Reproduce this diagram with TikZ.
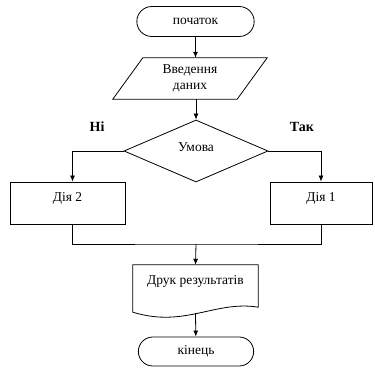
\documentclass[tikz,border=0pt]{standalone}
\usepackage{fontspec}
\setmainfont{Liberation Serif}
\usetikzlibrary{positioning,arrows.meta,shapes.geometric,shapes.misc}

\tikzset{
  >={Latex[length=6pt,width=5pt]},
  line/.style={draw, line width=0.8pt},
  txt/.style={font=\fontsize{13.5}{15}\selectfont},
  term/.style={line, txt, rounded rectangle, minimum width=124, minimum height=30},
  inbox/.style={txt, minimum width=124, minimum height=41, inner sep=0pt, align=center, font=\fontsize{13.5}{16}\selectfont},
  cond/.style={line, txt, diamond, minimum width=144, minimum height=62, inner sep=0pt},
  actbox/.style={line, txt, rectangle, minimum height=42, text depth=12pt},
  branch/.style={font=\fontsize{14}{16}\selectfont\bfseries}
}

\begin{document}
\begin{tikzpicture}[x=1pt,y=-1pt]
\useasboundingbox (0,0) rectangle (375,371);

\node[term] (start) at (195.5,21.5) {початок};
\node[inbox] (input) at (190,78.5) {Введення\\даних};
\node[cond] (check) at (196,151) {\raisebox{8pt}{Умова}};
\node[branch] (no)  at (97,127)  {Ні};
\node[branch] (yes) at (302,127) {Так};
\node[actbox, minimum width=115] (act2) at (67.5,203) {Дія 2};
\node[actbox, minimum width=102] (act1) at (321,203) {Дія 1};
\coordinate (join) at (196,244);
\node[minimum width=125, minimum height=42, inner sep=0pt] (docbox) at (195.5,286) {};
\node[txt] (doc) at (195.5,281) {Друк результатів};
\node[term, minimum width=122, minimum height=29] (stop) at (196,351.5) {кінець};

\draw[line] ([xshift=15pt]input.north west) -- ([xshift=15pt]input.north east)
  -- ([xshift=-15pt]input.south east) -- ([xshift=-15pt]input.south west) -- cycle;
\draw[line] (docbox.north west) -- (docbox.north east) -- (docbox.south east)
  .. controls ([xshift=-43pt,yshift=7pt]docbox.south east) and ([xshift=52pt,yshift=-21pt]docbox.south west) .. ([yshift=-5pt]docbox.south west) -- cycle;

\draw[line,->] (start) -- (start |- input.north);
\draw[line,->] (input.south -| check.north) -- (check.north);
\draw[line,->] (check.west) -| ([xshift=5pt]act2.north);
\draw[line,->] (check.east) -| (act1.north);
\draw[line] ([xshift=5pt]act2.south) |- (join) -| (act1.south);
\draw[line,->] (join) -- (docbox.north);
\draw[line,->] ([yshift=-6pt]docbox.south) -- (stop);

\end{tikzpicture}
\end{document}
